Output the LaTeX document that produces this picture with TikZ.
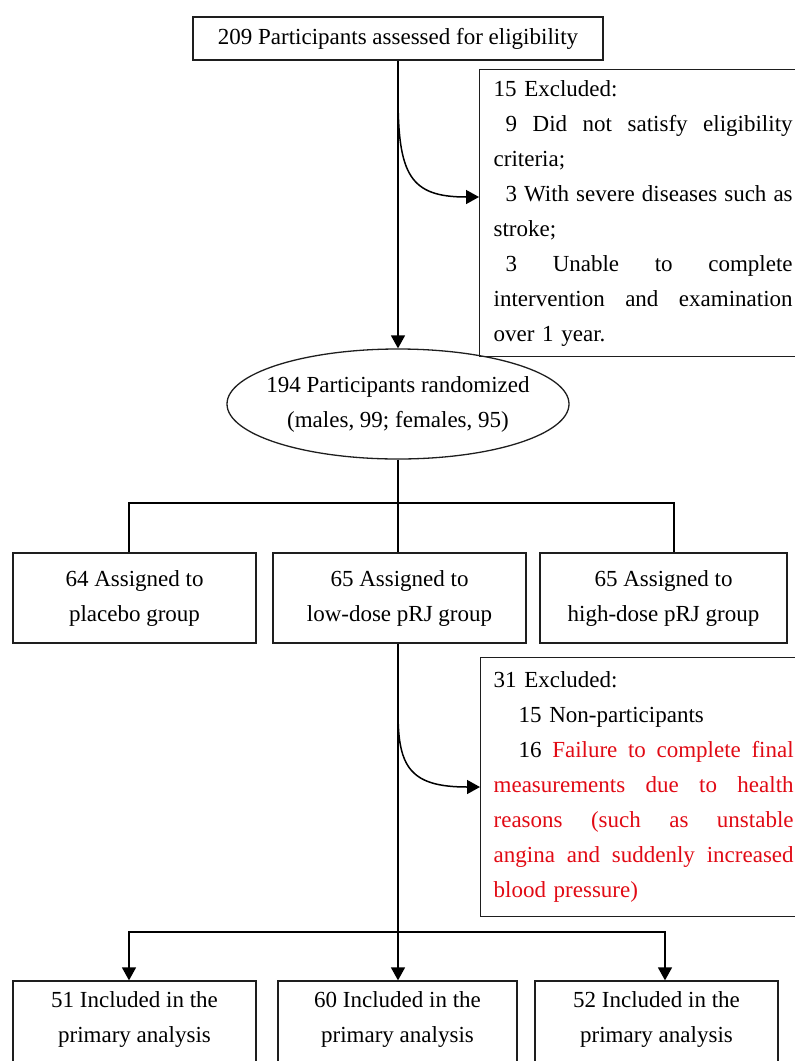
\documentclass[tikz,border=0pt]{standalone}
\usepackage{fontspec}
\setmainfont{Liberation Serif}
\usetikzlibrary{shapes.geometric,arrows.meta}
\definecolor{exred}{RGB}{225,10,20}
\definecolor{boxline}{RGB}{30,30,30}
\newcommand\jfill{\hspace{0pt plus 1fill}}
\begin{document}
\begin{tikzpicture}[x=1pt,y=-1pt,
  font=\fontsize{23}{35}\selectfont,
  box/.style={draw=boxline, line width=1.3pt, rectangle, align=center, inner sep=0pt},
  excl/.style={draw=boxline, line width=1.3pt, rectangle, anchor=north west, align=left,
               text width=300pt, inner xsep=13pt, inner ysep=4pt},
  conn/.style={line width=1.5pt},
  arr/.style={conn, -{Triangle[length=13pt,width=14pt]}},
]
\useasboundingbox (0,0) rectangle (795,1061);

% top
\node[box, minimum width=410pt, minimum height=43pt] (start) at (398,38.5)
  {209 Participants assessed for eligibility};

% exclusion 1
\node[excl, inner xsep=14pt, minimum height=287pt] (ex1) at (479,69) {15 Excluded:\\
\hspace*{12pt}\makebox[287pt][l]{9\jfill Did\jfill not\jfill satisfy\jfill eligibility}\\
criteria;\\
\hspace*{12pt}\makebox[287pt][l]{3\jfill With\jfill severe\jfill diseases\jfill such\jfill as}\\
stroke;\\
\hspace*{12pt}\makebox[287pt][l]{3\jfill Unable\jfill to\jfill complete}\\
\makebox[299pt][l]{intervention\jfill and\jfill examination}\\
over 1 year.};

% randomized
\node[draw=boxline, line width=1.3pt, ellipse, minimum width=342pt, minimum height=110pt,
      inner xsep=-12pt, inner ysep=0pt, align=center] (rand) at (398,404)
  {194 Participants randomized\\(males, 99; females, 95)};

% groups
\node[box, minimum width=243pt, minimum height=90pt] (g1) at (134.5,598)
  {64 Assigned to\\placebo group};
\node[box, minimum width=253pt, minimum height=90pt] (g2) at (399.5,598)
  {65 Assigned to\\low-dose pRJ group};
\node[box, minimum width=247pt, minimum height=90pt] (g3) at (663.5,598)
  {65 Assigned to\\high-dose pRJ group};

% exclusion 2
\node[excl, minimum height=259pt] (ex2) at (480,657) {31 Excluded:\\
\hspace*{25pt}15 Non-participants\\
\hspace*{25pt}\makebox[275pt][l]{16\jfill \textcolor{exred}{Failure\jfill to\jfill complete\jfill final}}\\
\textcolor{exred}{\makebox[300pt][l]{measurements\jfill due\jfill to\jfill health}}\\
\textcolor{exred}{\makebox[300pt][l]{reasons\jfill (such\jfill as\jfill unstable}}\\
\textcolor{exred}{\makebox[300pt][l]{angina\jfill and\jfill suddenly\jfill increased}}\\
\textcolor{exred}{blood pressure)}};

% analysis
\node[box, minimum width=243pt, minimum height=118pt] (a1) at (134.5,1040)
  {51 Included in the\\primary analysis\\\strut};
\node[box, minimum width=239pt, minimum height=118pt] (a2) at (397.5,1040)
  {60 Included in the\\primary analysis\\\strut};
\node[box, minimum width=243pt, minimum height=118pt] (a3) at (656.5,1040)
  {52 Included in the\\primary analysis\\\strut};

% connectors
\draw[arr] (start.south) -- (start.south |- rand.north);
\coordinate (c1) at (398,95);
\coordinate (t1) at (479,197);
\draw[arr] (c1) .. controls (398,175) and (410,197) .. (ex1.west |- t1);

\coordinate (split1) at (398,503);
\draw[conn] (rand.south) -- (split1);
\draw[conn] ([xshift=-5.5pt]g1.north) |- (split1) -| ([xshift=10.5pt]g3.north);
\draw[conn] (split1) -- (split1 |- g2.north);

\coordinate (c2) at (398,712);
\coordinate (t2) at (480,787);
\draw[arr] (c2) .. controls (398,767) and (410,787) .. (ex2.west |- t2);

\coordinate (split2) at (398,932);
\draw[arr] (g2.south -| split2) -- (split2 |- a2.north);
\draw[arr] (split2) -| ([xshift=-5.5pt]a1.north);
\draw[arr] (split2) -| ([xshift=8.5pt]a3.north);
\end{tikzpicture}
\end{document}
